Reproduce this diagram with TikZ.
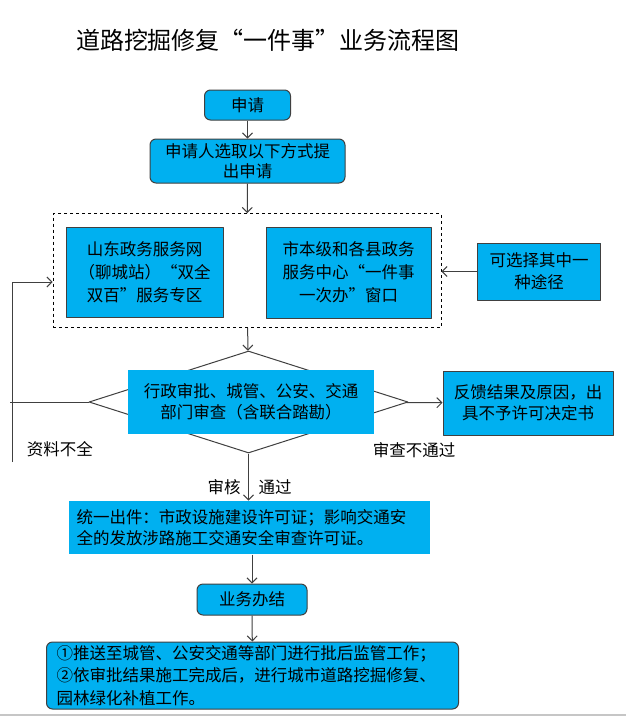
\documentclass[tikz,border=0pt]{standalone}
\usepackage{fontspec}
\setmainfont{Noto Sans CJK SC}
\usetikzlibrary{shapes.geometric,arrows.meta}
\definecolor{boxcyan}{HTML}{00B0F0}
\definecolor{linegray}{HTML}{404040}
\tikzset{
	stepbox/.style={draw=linegray, line width=1pt, fill=boxcyan, inner sep=0pt, align=center, font=\fontsize{16.5}{22}\selectfont},
	roundbox/.style={stepbox, rounded corners=6pt},
	plainbox/.style={stepbox, draw=none},
	tag/.style={inner sep=0pt, font=\fontsize{16.5}{18}\selectfont},
	flow/.style={->, linegray, line width=1pt},
}
\begin{document}
\begin{tikzpicture}[x=1pt,y=-1pt,line join=round,>={Straight Barb[length=5pt,width=10pt]}]
				\useasboundingbox (0,0) rectangle (626,716);
				\fill[white] (0,0) rectangle (626,716);
				
				\node[inner sep=0pt, font=\fontsize{24}{28}\selectfont] (title) at (268,40) {道路挖掘修复“一件事”业务流程图};
				
				\node[roundbox, minimum width=86pt, minimum height=30pt] (apply) at (247.5,105) {申请};
				\node[roundbox, minimum width=195pt, minimum height=44pt, font=\fontsize{16.5}{20}\selectfont] (choose) at (247.5,161) {申请人选取以下方式提\\出申请};
				
				\node[draw=black, dashed, line width=0.8pt, minimum width=388pt, minimum height=114pt, inner sep=0pt] (frame) at (247,270.5) {};
				\node[stepbox, minimum width=157pt, minimum height=90pt, font=\fontsize{16.5}{23}\selectfont] (online) at (144.5,272) {山东政务服务网\\（聊城站）“双全\\双百”服务专区};
				\node[stepbox, minimum width=165pt, minimum height=91pt, font=\fontsize{16.5}{23}\selectfont] (hall) at (348.5,272.5) {市本级和各县政务\\服务中心“一件事\\一次办”窗口};
				\node[stepbox, minimum width=123pt, minimum height=57pt] (either) at (539,271.5) {可选择其中一\\种途径};
				
				\node[draw=linegray, line width=1pt, shape=diamond, inner sep=0pt, minimum width=319pt, minimum height=102pt] (check) at (248.5,402) {};
				\node[plainbox, minimum width=246pt, minimum height=64pt, font=\fontsize{16.5}{21}\selectfont] (review) at (251,402) {行政审批、城管、公安、交通\\部门审查（含联合踏勘）};
				\node[stepbox, minimum width=170pt, minimum height=64pt, font=\fontsize{16.5}{21}\selectfont] (feedback) at (528,403) {反馈结果及原因，出\\具不予许可决定书};
				
				\node[tag] (nopass) at (414,450) {审查不通过};
				\node[tag] (lack) at (60,449) {资料不全};
				\node[tag] (audit) at (224,487) {审核};
				\node[tag] (pass) at (275,487) {通过};
				
				\node[plainbox, minimum width=361pt, minimum height=53pt, text width=345pt, align=left, font=\fontsize{16.5}{21}\selectfont] (issue) at (249,527.5) {统一出件：市政设施建设许可证；影响交通安\\全的发放涉路施工交通安全审查许可证。};
				\node[roundbox, minimum width=110pt, minimum height=31pt] (done) at (252,599.5) {业务办结};
				\node[roundbox, minimum width=412pt, minimum height=67pt, text width=392pt, align=left, font=\fontsize{16.5}{22.5}\selectfont] (follow) at (252.5,675.5) {①推送至城管、公安交通等部门进行批后监管工作；\\②依审批结果施工完成后，进行城市道路挖掘修复、\\园林绿化补植工作。};
				
				\coordinate (looptop) at (12,282);
				\coordinate (loopend) at (12,462);
				\coordinate (loopleft) at (10,402);
				
				\draw[flow] (apply) -- (choose);
				\draw[flow] (choose) -- (frame);
				\draw[flow] (either) -- (either -| frame.east);
				\draw[flow] (frame) -- (check);
				\draw[flow] (check) -- (feedback);
				\draw[flow] (check.south) -- (check.south |- issue.north);
				\draw[flow] (issue.south -| done) -- (done);
				\draw[flow] (done) -- (follow);
				\draw[linegray, line width=1pt] (check.west) -- (loopleft);
				\draw[flow] (loopend) -- (looptop) -- (looptop -| frame.west);
				
				\draw[gray!45, line width=1.2pt] (0,715) -- (626,715);
			\end{tikzpicture}
\end{document}
